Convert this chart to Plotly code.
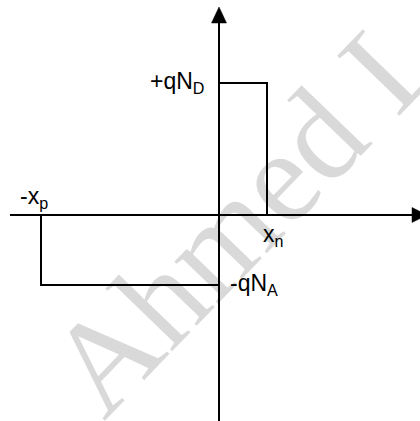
import plotly.graph_objects as go

# Charge density profile of an abrupt p-n junction (arbitrary units)
x_p = 178      # depletion width on p side
x_n = 48       # depletion width on n side
qN_D = 132     # +qN_D level
qN_A = 70      # -qN_A level

step_x = [-x_p, -x_p, 0, 0, x_n, x_n]
step_rho = [0, -qN_A, -qN_A, qN_D, qN_D, 0]

label_ND = "+qN<sub>D</sub>"
label_NA = "-qN<sub>A</sub>"
label_xp = "-x<sub>p</sub>"
label_xn = "x<sub>n</sub>"
watermark = "Ahmed L"

X_RANGE = [-219, 201]
Y_RANGE = [-206, 215]
FONT = "Liberation Sans, Arial, sans-serif"

fig = go.Figure()

# axes lines
fig.add_trace(go.Scatter(x=[-209, 194], y=[0, 0], mode="lines",
                         line=dict(color="black", width=2), hoverinfo="skip"))
fig.add_trace(go.Scatter(x=[0, 0], y=[Y_RANGE[0], 194], mode="lines",
                         line=dict(color="black", width=2), hoverinfo="skip"))
# arrow heads
fig.add_trace(go.Scatter(x=[-7.5, 7.5, 0, -7.5], y=[192, 192, 208, 192], mode="lines",
                         fill="toself", fillcolor="black",
                         line=dict(color="black", width=0.5), hoverinfo="skip"))
fig.add_trace(go.Scatter(x=[193, 193, 208, 193], y=[7.5, -7.5, 0, 7.5], mode="lines",
                         fill="toself", fillcolor="black",
                         line=dict(color="black", width=0.5), hoverinfo="skip"))
# charge density step
fig.add_trace(go.Scatter(x=step_x, y=step_rho, mode="lines",
                         line=dict(color="black", width=2), hoverinfo="skip"))

# watermark
fig.add_annotation(x=27, y=5, text=watermark, showarrow=False, textangle=-46,
                   font=dict(family="Liberation Serif, Times New Roman, serif",
                             size=132, color="rgba(0,0,0,0.15)"),
                   xanchor="center", yanchor="middle")

lab_font = dict(family=FONT, size=23, color="black")
fig.add_annotation(x=-13, y=qN_D + 1, text=label_ND, showarrow=False, font=lab_font,
                   xanchor="right", yanchor="middle")
fig.add_annotation(x=9, y=-qN_A + 1, text=label_NA, showarrow=False, font=lab_font,
                   xanchor="left", yanchor="middle")
fig.add_annotation(x=-201, y=1, text=label_xp, showarrow=False, font=lab_font,
                   xanchor="left", yanchor="bottom")
fig.add_annotation(x=x_n - 6, y=-4, text=label_xn, showarrow=False, font=lab_font,
                   xanchor="left", yanchor="top")

fig.update_layout(
    width=420, height=421,
    margin=dict(l=0, r=0, t=0, b=0),
    paper_bgcolor="white", plot_bgcolor="white",
    showlegend=False,
    xaxis=dict(visible=False, range=X_RANGE, fixedrange=True),
    yaxis=dict(visible=False, range=Y_RANGE, fixedrange=True),
)
fig.write_html("out.html", config={"displayModeBar": False},
               post_script="document.body.style.margin='0';")
